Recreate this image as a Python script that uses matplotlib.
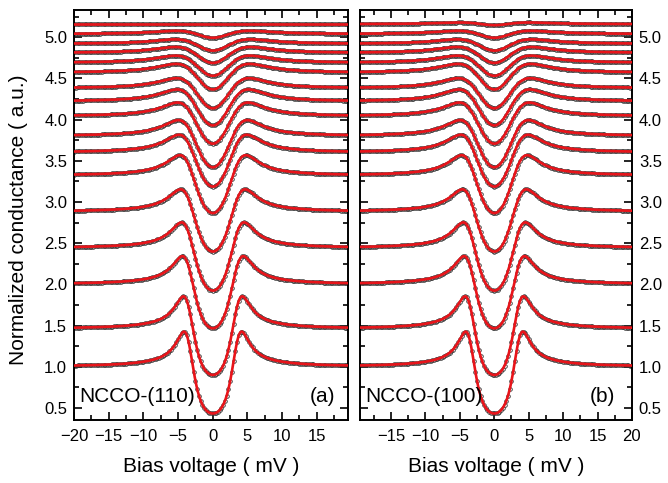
import numpy as np
import matplotlib
matplotlib.use("Agg")
import matplotlib.pyplot as plt
from matplotlib.ticker import MultipleLocator, FormatStrFormatter

plt.rcParams['font.family'] = ['Liberation Sans', 'DejaVu Sans']

# Spectra, bottom to top: vertical offset, temperature (K), gap (meV), broadening (meV)
offsets_110 = [1.0, 1.46, 2.0, 2.44, 2.88, 3.32, 3.60, 3.80, 4.04, 4.22, 4.38, 4.57, 4.69, 4.81, 4.92, 5.04, 5.16]
temps_110 = [4.2, 5.0, 6.0, 7.0, 8.0, 9.0, 10.0, 11.0, 12.0, 13.0, 14.0, 15.0, 16.0, 17.0, 18.0, 19.0, 21.0]
gaps_110 = [3.65, 3.65, 3.65, 3.64, 3.62, 3.58, 3.52, 3.44, 3.34, 3.2, 3.05, 2.9, 2.7, 2.5, 2.23, 1.87, 0.0]
gammas_110 = [0.55, 0.55, 0.6, 0.6, 0.65, 0.65, 0.7, 0.7, 0.75, 0.75, 0.8, 0.8, 0.85, 0.85, 0.9, 0.9, 0.9]

offsets_100 = [1.0, 1.46, 2.0, 2.44, 2.88, 3.32, 3.60, 3.80, 4.04, 4.22, 4.38, 4.57, 4.69, 4.81, 4.92, 5.04, 5.16]
temps_100 = [4.2, 5.0, 6.0, 7.0, 8.0, 9.0, 10.0, 11.0, 12.0, 13.0, 14.0, 15.0, 16.0, 17.0, 18.0, 19.0, 20.0]
gaps_100 = [3.65, 3.65, 3.65, 3.64, 3.62, 3.58, 3.52, 3.44, 3.34, 3.2, 3.05, 2.9, 2.7, 2.5, 2.23, 1.87, 1.3]
gammas_100 = [0.55, 0.55, 0.6, 0.6, 0.65, 0.65, 0.7, 0.7, 0.75, 0.75, 0.8, 0.8, 0.85, 0.85, 0.9, 0.9, 0.9]

barrier_z = 1.35
bias_min, bias_max = -20.0, 20.0
KB = 0.08617  # meV / K


def btk_conductance(v, gap, gamma, temp, z=barrier_z):
    """Normalized BTK conductance with Dynes broadening and thermal smearing."""
    e = np.linspace(-45, 45, 9001)
    if gap > 0:
        eps = np.abs(e) + 1j * gamma
        root = np.sqrt(eps * eps - gap * gap)
        u2 = 0.5 * (1 + root / eps)
        v2 = 1 - u2
        g = u2 + (u2 - v2) * z * z
        a = np.abs(u2) * np.abs(v2) / np.abs(g) ** 2
        b = np.abs(u2 - v2) ** 2 * z * z * (1 + z * z) / np.abs(g) ** 2
        cond = (1 + a - b) * (1 + z * z)
    else:
        cond = np.ones_like(e)
    kt = KB * temp
    out = np.empty_like(v)
    for i, vi in enumerate(v):
        w = 1.0 / np.cosh((e - vi) / (2 * kt)) ** 2
        out[i] = np.sum(cond * w) / np.sum(w)
    return out


fig = plt.figure(figsize=(6.68, 4.83), dpi=100)
ax_a = fig.add_axes([0.111, 0.130, 0.410, 0.849])
ax_b = fig.add_axes([0.539, 0.130, 0.407, 0.849])

v_line = np.linspace(bias_min, bias_max, 801)
v_pts = v_line[::5]

for ax, offs, ts, gs, gms in [(ax_a, offsets_110, temps_110, gaps_110, gammas_110),
                              (ax_b, offsets_100, temps_100, gaps_100, gammas_100)]:
    for off, t, g, gm in zip(offs, ts, gs, gms):
        g_line = btk_conductance(v_line, g, gm, t) - 1 + off
        ax.plot(v_pts, g_line[::5], linestyle='none', marker='o', ms=2.6, mfc='none',
                mec='#333333', mew=0.6, zorder=2)
        ax.plot(v_line, g_line, color='#e8141a', lw=1.9, zorder=3)

for ax in (ax_a, ax_b):
    ax.set_ylim(0.35, 5.33)
    ax.yaxis.set_major_locator(MultipleLocator(0.5))
    ax.yaxis.set_minor_locator(MultipleLocator(0.25))
    ax.yaxis.set_major_formatter(FormatStrFormatter('%.1f'))
    ax.xaxis.set_major_locator(MultipleLocator(5))
    ax.xaxis.set_minor_locator(MultipleLocator(2.5))
    ax.tick_params(which='both', direction='in', top=True, bottom=True, left=True, right=True,
                   labelsize=12, width=1.2)
    ax.tick_params(which='major', length=6)
    ax.tick_params(which='minor', length=3.5)
    ax.tick_params(axis='x', which='major', pad=6)
    ax.tick_params(axis='y', which='major', pad=5)
    for s in ax.spines.values():
        s.set_linewidth(1.4)
    ax.set_xlabel('Bias voltage ( mV )', fontsize=15, labelpad=10)

ax_a.set_xlim(-20, 19.5)
ax_a.set_xticks([-20, -15, -10, -5, 0, 5, 10, 15])
ax_a.set_ylabel('Normalized conductance ( a.u.)', fontsize=15)
ax_a.yaxis.set_label_coords(-0.17, 0.49)

ax_b.set_xlim(-19.5, 20)
ax_b.set_xticks([-15, -10, -5, 0, 5, 10, 15, 20])
ax_b.tick_params(labelleft=False, labelright=True)

ax_a.text(0.02, 0.035, 'NCCO-(110)', transform=ax_a.transAxes, fontsize=15, va='bottom', ha='left')
ax_a.text(0.955, 0.035, '(a)', transform=ax_a.transAxes, fontsize=15, va='bottom', ha='right')
ax_b.text(0.02, 0.035, 'NCCO-(100)', transform=ax_b.transAxes, fontsize=15, va='bottom', ha='left')
ax_b.text(0.94, 0.035, '(b)', transform=ax_b.transAxes, fontsize=15, va='bottom', ha='right')

fig.savefig('out.png', dpi=100)
